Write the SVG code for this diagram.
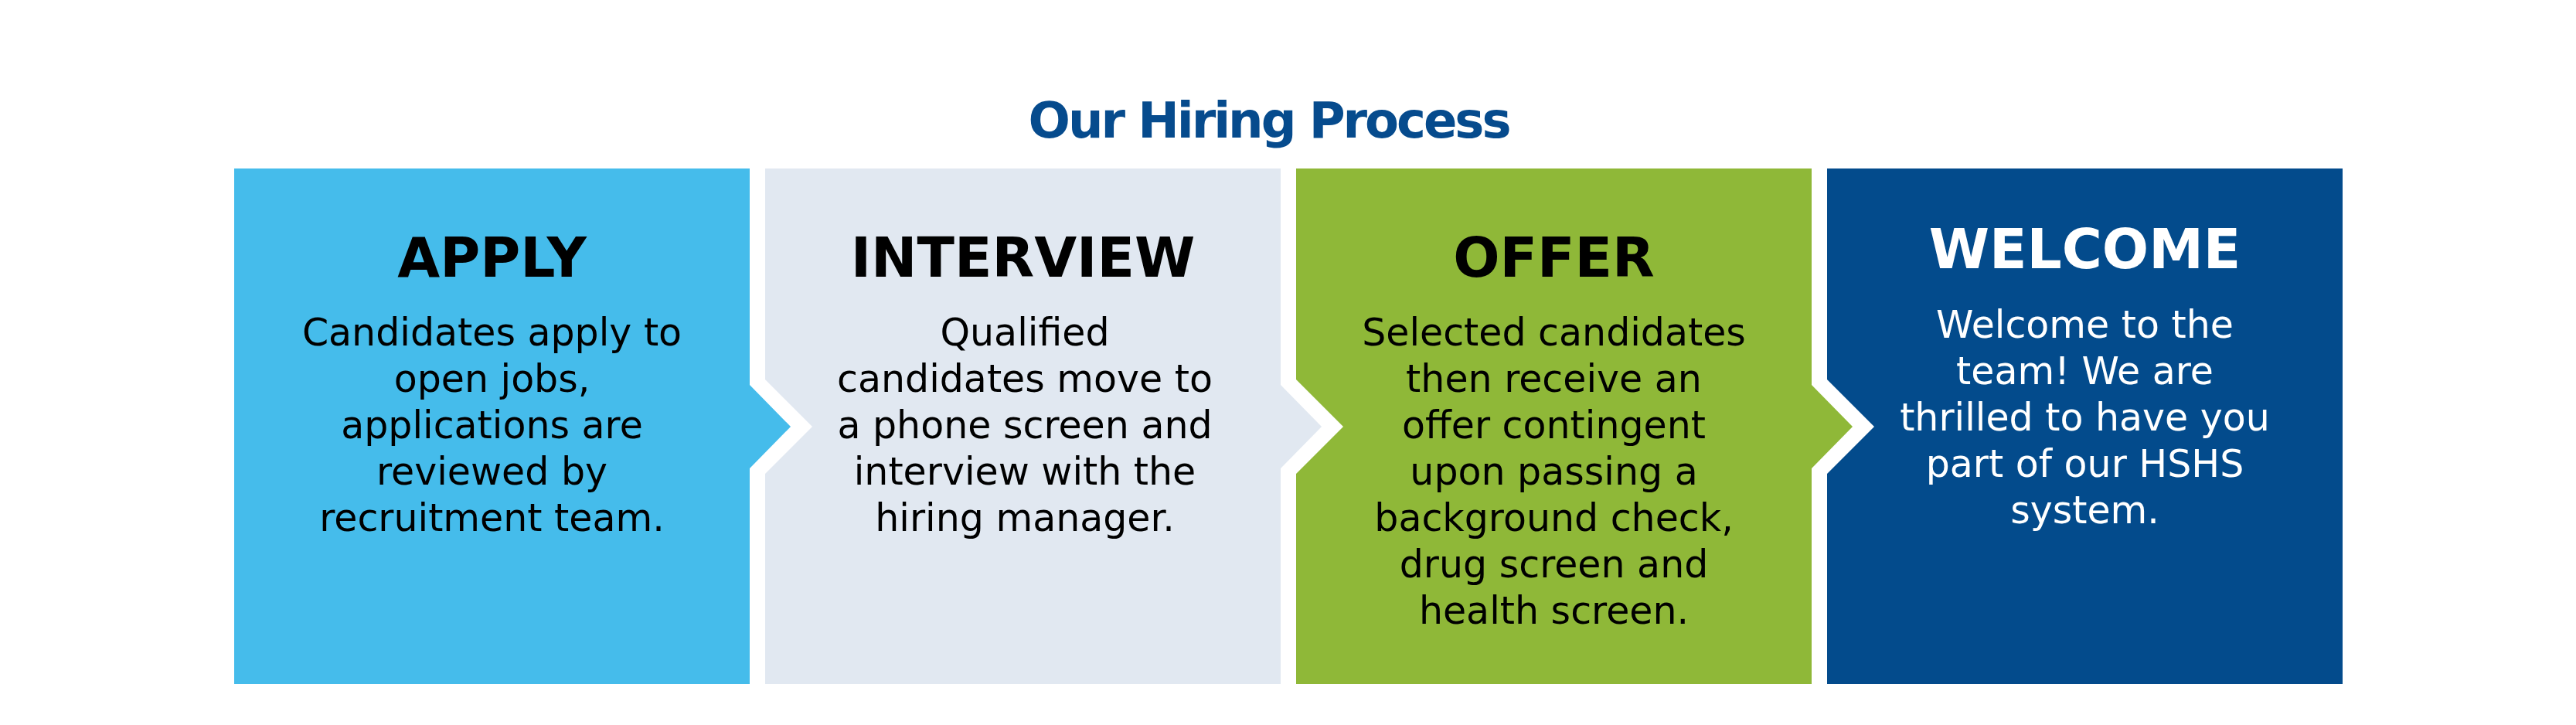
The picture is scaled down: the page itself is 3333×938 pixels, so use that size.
<svg xmlns="http://www.w3.org/2000/svg" width="3333" height="938" viewBox="0 0 3333 938">
<style>
.title{font-family:"DejaVu Sans","Liberation Sans",sans-serif;font-weight:bold;font-size:64px;fill:#064B8D;text-anchor:middle}
.head{font-family:"DejaVu Sans","Liberation Sans",sans-serif;font-weight:bold;font-size:71px;text-anchor:middle;fill:#000}
.body{font-family:"DejaVu Sans","Liberation Sans",sans-serif;font-size:49px;text-anchor:middle;fill:#000}
.light{fill:#fff}
.apply{fill:#45BCEB}
.interview{fill:#E1E8F1}
.offer{fill:#8FB838}
.welcome{fill:#034B8C}
</style>
<rect width="3333" height="938" fill="#fff"/>
<text class="title" x="1643" y="178" textLength="625" lengthAdjust="spacing">Our Hiring Process</text>

<g id="apply">
<rect class="apply" x="303" y="218" width="667" height="667"/>
<text class="head" x="636.5" y="358">APPLY</text>
<text class="body" x="636.5" y="447">Candidates apply to</text>
<text class="body" x="636.5" y="507">open jobs,</text>
<text class="body" x="636.5" y="567">applications are</text>
<text class="body" x="636.5" y="627">reviewed by</text>
<text class="body" x="636.5" y="687">recruitment team.</text>
</g>

<g id="interview">
<polygon class="interview" points="990,218 1657,218 1657,885 990,885 990,613 1051,552 990,491"/>
<text class="head" x="1323.5" y="358">INTERVIEW</text>
<text class="body" x="1326" y="447">Qualified</text>
<text class="body" x="1326" y="507">candidates move to</text>
<text class="body" x="1326" y="567">a phone screen and</text>
<text class="body" x="1326" y="627">interview with the</text>
<text class="body" x="1326" y="687">hiring manager.</text>
</g>

<g id="offer">
<polygon class="offer" points="1677,218 2344,218 2344,885 1677,885 1677,613 1738,552 1677,491"/>
<text class="head" x="2010.5" y="358">OFFER</text>
<text class="body" x="2010.5" y="447">Selected candidates</text>
<text class="body" x="2010.5" y="507">then receive an</text>
<text class="body" x="2010.5" y="567">offer contingent</text>
<text class="body" x="2010.5" y="627">upon passing a</text>
<text class="body" x="2010.5" y="687">background check,</text>
<text class="body" x="2010.5" y="747">drug screen and</text>
<text class="body" x="2010.5" y="807">health screen.</text>
</g>

<g id="welcome">
<polygon class="welcome" points="2364,218 3031,218 3031,885 2364,885 2364,613 2425,552 2364,491"/>
<text class="head light" x="2697.5" y="347">WELCOME</text>
<text class="body light" x="2697.5" y="437">Welcome to the</text>
<text class="body light" x="2697.5" y="497">team! We are</text>
<text class="body light" x="2697.5" y="557">thrilled to have you</text>
<text class="body light" x="2697.5" y="617">part of our HSHS</text>
<text class="body light" x="2697.5" y="677">system.</text>
</g>

<g id="connectors">
<polygon class="apply" points="968,498 970,498 1023,552 970,606 968,606"/>
<polygon class="interview" points="1655,498 1657,498 1710,552 1657,606 1655,606"/>
<polygon class="offer" points="2342,498 2344,498 2397,552 2344,606 2342,606"/>
</g>
</svg>
